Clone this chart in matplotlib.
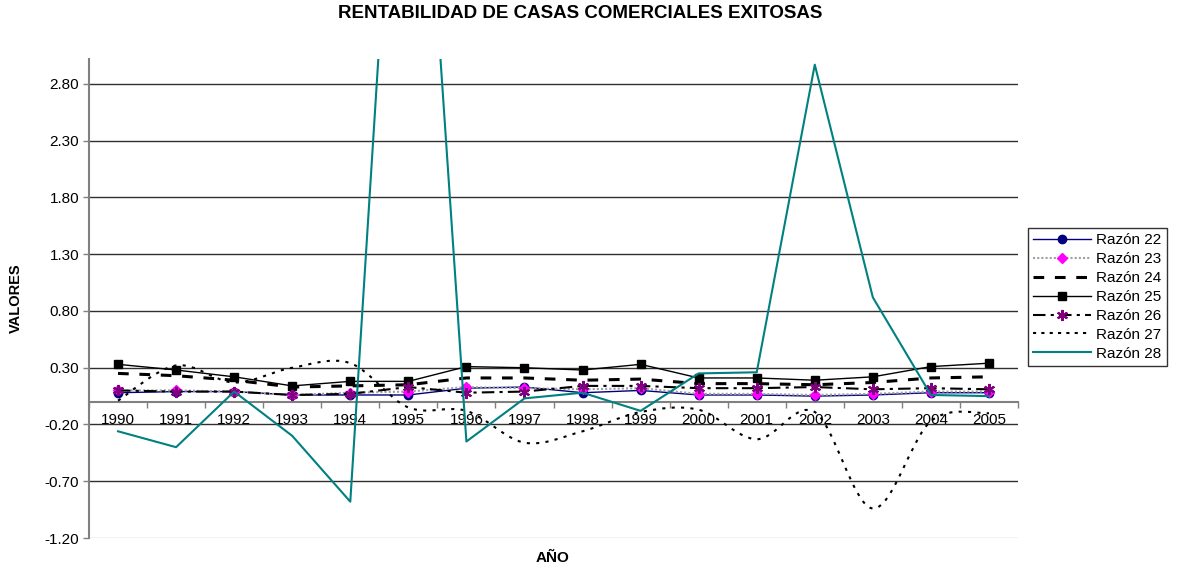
import matplotlib
matplotlib.use("Agg")
import matplotlib.pyplot as plt
from matplotlib.path import Path
from matplotlib.patches import PathPatch
from matplotlib.lines import Line2D
import numpy as np

plt.rcParams['font.family'] = ['Liberation Sans', 'DejaVu Sans']

years = ['1990', '1991', '1992', '1993', '1994', '1995', '1996', '1997',
         '1998', '1999', '2000', '2001', '2002', '2003', '2004', '2005']

razon22 = [0.08, 0.09, 0.09, 0.06, 0.06, 0.06, 0.12, 0.13, 0.08, 0.10, 0.06, 0.06, 0.05, 0.06, 0.08, 0.08]
razon23 = [0.10, 0.10, 0.09, 0.06, 0.08, 0.09, 0.13, 0.12, 0.11, 0.12, 0.07, 0.07, 0.06, 0.07, 0.09, 0.09]
razon24 = [0.25, 0.23, 0.19, 0.13, 0.14, 0.15, 0.21, 0.21, 0.19, 0.20, 0.16, 0.16, 0.15, 0.17, 0.21, 0.22]
razon25 = [0.33, 0.28, 0.22, 0.14, 0.18, 0.18, 0.31, 0.30, 0.28, 0.33, 0.21, 0.21, 0.19, 0.22, 0.31, 0.34]
razon26 = [0.10, 0.09, 0.09, 0.06, 0.07, 0.13, 0.08, 0.09, 0.14, 0.14, 0.12, 0.12, 0.13, 0.11, 0.12, 0.11]
razon27 = [0.01, 0.32, 0.17, 0.30, 0.34, -0.05, -0.08, -0.36, -0.26, -0.09, -0.07, -0.33, -0.09, -0.94, -0.17, -0.10]
razon28 = [-0.26, -0.40, 0.09, -0.30, -0.88, 7.20, -0.35, 0.03, 0.08, -0.08, 0.25, 0.26, 2.97, 0.92, 0.06, 0.05]

yticks = [-1.20, -0.70, -0.20, 0.30, 0.80, 1.30, 1.80, 2.30, 2.80]

W, H = 1177, 569
fig = plt.figure(figsize=(W / 100, H / 100), dpi=100)
ax = fig.add_axes([89 / W, 1 - 538 / H, (1018 - 89) / W, (538 - 59) / H])

x = np.arange(len(years))
ax.set_xlim(-0.5, len(years) - 0.5)
ax.set_ylim(-1.2, 3.02)

# grid
for yv in yticks:
    ax.axhline(yv, color='#303030' if yv > -1.2 else '#c0c0c0', lw=1.0, zorder=1)

l22, = ax.plot(x, razon22, color='#000080', lw=1.0, marker='o', ms=6,
               mfc='#000080', mec='#000080', zorder=3, label='Razón 22')
l23, = ax.plot(x, razon23, color='#a0a0a0', lw=1.5, ls=(0, (1, 1)), marker='D', ms=5,
               mfc='#ff00ff', mec='#ff00ff', zorder=3, label='Razón 23')
l24, = ax.plot(x, razon24, color='black', lw=2.2, ls=(0, (3.5, 3.5)), zorder=3, label='Razón 24')
l25, = ax.plot(x, razon25, color='black', lw=1.0, marker='s', ms=5.5,
               mfc='black', mec='black', zorder=3, label='Razón 25')
l26, = ax.plot(x, razon26, color='black', lw=1.5, ls=(0, (6, 2.5, 1.5, 2.5)), marker=(6, 2, 0), ms=8,
               mec='#800080', mew=1.5, zorder=3, label='Razón 26')

# smoothed dotted line (Razón 27) drawn as cubic Bezier path through the data points
px = list(x.astype(float))
py = list(razon27)
n = len(px)
verts = [(px[0], py[0])]
codes = [Path.MOVETO]
for i in range(n - 1):
    i0 = max(i - 1, 0)
    i3 = min(i + 2, n - 1)
    c1 = (px[i] + (px[i + 1] - px[i0]) / 6, py[i] + (py[i + 1] - py[i0]) / 6)
    c2 = (px[i + 1] - (px[i3] - px[i]) / 6, py[i + 1] - (py[i3] - py[i]) / 6)
    verts += [c1, c2, (px[i + 1], py[i + 1])]
    codes += [Path.CURVE4, Path.CURVE4, Path.CURVE4]
patch = PathPatch(Path(verts, codes), fill=False, edgecolor='black', lw=1.5,
                  ls=(0, (1.5, 3)), zorder=3)
ax.add_patch(patch)
l27 = Line2D([], [], color='black', lw=1.5, ls=(0, (1.5, 2.5)), label='Razón 27')

l28, = ax.plot(x, razon28, color='#008080', lw=1.5, zorder=4, label='Razón 28')

# axes styling
for s in ['top', 'right']:
    ax.spines[s].set_visible(False)
ax.spines['left'].set_color('#808080')
ax.spines['left'].set_linewidth(1.5)
ax.spines['bottom'].set_position(('data', 0))
ax.spines['bottom'].set_color('#808080')
ax.spines['bottom'].set_linewidth(1.5)
ax.spines['bottom'].set_zorder(2)

ax.set_yticks(yticks)
ax.set_yticklabels([f'{v:.2f}' for v in yticks], fontsize=11)
ax.tick_params(axis='y', length=4, width=1, color='#808080', pad=3)

ax.set_xticks(np.arange(-0.5, len(years), 1.0))
ax.set_xticklabels([])
ax.tick_params(axis='x', which='major', direction='out', length=4, width=1, color='#808080')
ax.set_xticks(x, minor=True)
ax.set_xticklabels(years, minor=True, fontsize=11)
ax.tick_params(axis='x', which='minor', length=0, pad=8)

fig.text(580 / W, 1 - 14 / H, 'RENTABILIDAD DE CASAS COMERCIALES EXITOSAS',
         ha='center', va='center', fontsize=13.5, fontweight='bold')
fig.text(553 / W, 1 - 558 / H, 'AÑO', ha='center', va='center', fontsize=11, fontweight='bold')
fig.text(16 / W, 1 - 298 / H, 'VALORES', ha='center', va='center', fontsize=10.5,
         fontweight='bold', rotation=90)

leg = fig.legend(handles=[l22, l23, l24, l25, l26, l27, l28],
                 loc='upper left', bbox_to_anchor=(1028 / W, 1 - 228 / H),
                 frameon=True, fancybox=False, shadow=False, fontsize=11,
                 handlelength=3.8, handletextpad=0.3, labelspacing=0.32,
                 borderpad=0.35, borderaxespad=0)
leg.get_frame().set_edgecolor('black')
leg.get_frame().set_linewidth(1.0)

fig.savefig('out.png', dpi=100)
